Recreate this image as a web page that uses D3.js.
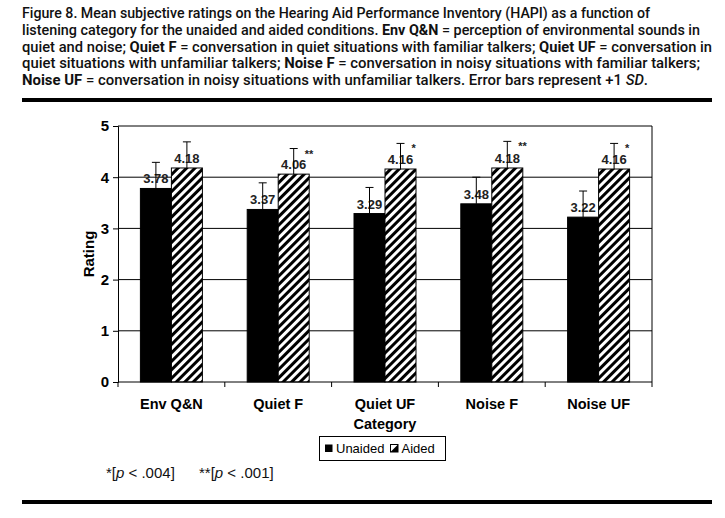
<!DOCTYPE html>
<html>
<head>
<meta charset="utf-8">
<script src="https://cdn.jsdelivr.net/npm/d3@7"></script>
<style>
  body { margin: 0; background: #fff; }
  svg { display: block; font-family: "Liberation Sans", Arial, sans-serif; }
</style>
</head>
<body>
<div id="chart"></div>
<script>
// Chart data
const categories = ["Env Q&N", "Quiet F", "Quiet UF", "Noise F", "Noise UF"];
const series = ["Unaided", "Aided"];
const unaided = [3.78, 3.37, 3.29, 3.48, 3.22];
const aided = [4.18, 4.06, 4.16, 4.18, 4.16];
const unaidedSD = [0.51, 0.52, 0.51, 0.52, 0.51];
const aidedSD = [0.51, 0.50, 0.50, 0.52, 0.50];
const significance = ["", "**", "*", "**", "*"];
const yTicks = [0, 1, 2, 3, 4, 5];

// Caption lines: [text, style] pieces per line
const captionLines = [
  [["Figure 8. Mean subjective ratings on the Hearing Aid Performance Inventory (HAPI) as a function of", false]],
  [["listening category for the unaided and aided conditions. ", false], ["Env Q&N", true], [" = perception of environmental sounds in", false]],
  [["quiet and noise; ", false], ["Quiet F", true], [" = conversation in quiet situations with familiar talkers; ", false], ["Quiet UF", true], [" = conversation in", false]],
  [["quiet situations with unfamiliar talkers; ", false], ["Noise F", true], [" = conversation in noisy situations with familiar talkers;", false]],
  [["Noise UF", true], [" = conversation in noisy situations with unfamiliar talkers. Error bars represent +1 ", false], ["SD", "italic"], [".", false]]
];
const captionWidths = [628, 678, 690, 678, 626];

const width = 725;
const height = 518;
const plot = { left: 118, right: 652, top: 126, bottom: 382 };

const svg = d3.select("#chart")
  .append("svg")
  .attr("width", width)
  .attr("height", height);

// Hatch pattern for aided bars
const defs = svg.append("defs");
const hatch = defs.append("pattern")
  .attr("id", "hatch")
  .attr("patternUnits", "userSpaceOnUse")
  .attr("width", 6)
  .attr("height", 6)
  .attr("patternTransform", "rotate(45)");
hatch.append("rect").attr("width", 6).attr("height", 6).attr("fill", "#fff");
hatch.append("line")
  .attr("x1", 1.5).attr("y1", 0).attr("x2", 1.5).attr("y2", 6)
  .attr("stroke", "#000").attr("stroke-width", 3);

// Caption
const cap = svg.append("g")
  .attr("font-family", "Roboto, 'Liberation Sans', sans-serif")
  .attr("font-size", 14)
  .attr("fill", "#111");
captionLines.forEach((pieces, i) => {
  const t = cap.append("text")
    .attr("x", 22)
    .attr("y", 18 + i * 16.8)
    .attr("textLength", captionWidths[i])
    .attr("lengthAdjust", "spacingAndGlyphs");
  pieces.forEach(([s, style]) => {
    t.append("tspan")
      .attr("font-weight", style === true ? 700 : 500)
      .attr("font-style", style === "italic" ? "italic" : "normal")
      .text(s);
  });
});

// Rules
svg.append("rect").attr("x", 22).attr("y", 98).attr("width", 690).attr("height", 4).attr("fill", "#000");
svg.append("rect").attr("x", 22).attr("y", 500).attr("width", 690).attr("height", 4).attr("fill", "#000");

// Scales
const x0 = d3.scaleBand()
  .domain(categories)
  .range([plot.left, plot.right]);

const x1 = d3.scaleBand()
  .domain(series)
  .range([0, 62]);

const y = d3.scaleLinear()
  .domain([0, 5])
  .range([plot.bottom, plot.top]);

// Gridlines
svg.append("g")
  .selectAll("line")
  .data(yTicks.slice(1))
  .join("line")
  .attr("x1", plot.left)
  .attr("x2", plot.right)
  .attr("y1", d => y(d))
  .attr("y2", d => y(d))
  .attr("stroke", "#000")
  .attr("stroke-width", 1);

// right border
svg.append("line")
  .attr("x1", plot.right).attr("x2", plot.right)
  .attr("y1", plot.top).attr("y2", plot.bottom)
  .attr("stroke", "#000");

// Bars
const rows = categories.map((c, i) => ({
  cat: c,
  vals: [
    { s: "Unaided", v: unaided[i], sd: unaidedSD[i], sig: "" },
    { s: "Aided", v: aided[i], sd: aidedSD[i], sig: significance[i] }
  ]
}));

const groups = svg.append("g")
  .selectAll("g")
  .data(rows)
  .join("g")
  .attr("transform", d => `translate(${x0(d.cat) + x0.bandwidth() / 2 - 31},0)`);

groups.selectAll("rect")
  .data(d => d.vals)
  .join("rect")
  .attr("x", d => x1(d.s))
  .attr("y", d => y(d.v))
  .attr("width", x1.bandwidth())
  .attr("height", d => y(0) - y(d.v))
  .attr("fill", d => d.s === "Unaided" ? "#000" : "url(#hatch)")
  .attr("stroke", "#000")
  .attr("stroke-width", 1);

// Value labels
groups.selectAll("text.val")
  .data(d => d.vals)
  .join("text")
  .attr("class", "val")
  .attr("x", d => x1(d.s) + x1.bandwidth() / 2)
  .attr("y", d => y(d.v) - 5)
  .attr("text-anchor", "middle")
  .attr("font-size", 13)
  .attr("font-weight", "bold")
  .attr("fill", "#222")
  .text(d => d.v.toFixed(2));

// Error bars
const eb = groups.selectAll("g.err")
  .data(d => d.vals)
  .join("g")
  .attr("class", "err")
  .attr("stroke", "#000")
  .attr("stroke-width", 1);
eb.append("line")
  .attr("x1", d => x1(d.s) + x1.bandwidth() / 2)
  .attr("x2", d => x1(d.s) + x1.bandwidth() / 2)
  .attr("y1", d => y(d.v))
  .attr("y2", d => y(d.v + d.sd));
eb.append("line")
  .attr("x1", d => x1(d.s) + x1.bandwidth() / 2 - 4)
  .attr("x2", d => x1(d.s) + x1.bandwidth() / 2 + 4)
  .attr("y1", d => y(d.v + d.sd))
  .attr("y2", d => y(d.v + d.sd));

// Significance markers
groups.selectAll("text.sig")
  .data(d => d.vals.filter(v => v.sig))
  .join("text")
  .attr("class", "sig")
  .attr("x", d => x1(d.s) + x1.bandwidth() / 2 + 11)
  .attr("y", d => y(d.v + d.sd) + 9)
  .attr("font-size", 11)
  .attr("font-weight", "bold")
  .attr("fill", "#222")
  .text(d => d.sig);

// Axes
const yAxis = d3.axisLeft(y).tickValues(yTicks).tickSize(5).tickPadding(4).tickFormat(d3.format("d"));
svg.append("g")
  .attr("transform", `translate(${plot.left},0)`)
  .call(yAxis)
  .call(g => g.selectAll("text").attr("font-size", 15).attr("font-weight", "bold").attr("fill", "#000"))
  .call(g => g.select(".domain").attr("stroke", "#000"));

const xAxis = d3.axisBottom(x0).tickSize(0).tickPadding(17);
svg.append("g")
  .attr("transform", `translate(0,${plot.bottom})`)
  .call(xAxis)
  .call(g => g.selectAll("text").attr("font-size", 14.5).attr("font-weight", "bold").attr("fill", "#000"))
  .call(g => g.select(".domain").attr("d", `M${plot.left},0H${plot.right}`).attr("stroke", "#000"));

// category boundary ticks
svg.append("g")
  .selectAll("line")
  .data(categories.concat(["end"]))
  .join("line")
  .attr("x1", (d, i) => plot.left + i * x0.step())
  .attr("x2", (d, i) => plot.left + i * x0.step())
  .attr("y1", plot.bottom)
  .attr("y2", plot.bottom + 5)
  .attr("stroke", "#000");

// Axis titles
svg.append("text")
  .attr("transform", `translate(94,${(plot.top + plot.bottom) / 2}) rotate(-90)`)
  .attr("text-anchor", "middle")
  .attr("font-size", 15)
  .attr("font-weight", "bold")
  .text("Rating");

svg.append("text")
  .attr("x", (plot.left + plot.right) / 2)
  .attr("y", 429)
  .attr("text-anchor", "middle")
  .attr("font-size", 14.5)
  .attr("font-weight", "bold")
  .text("Category");

// Legend
const legend = svg.append("g");
legend.append("rect")
  .attr("x", 319.5).attr("y", 436.5).attr("width", 126).attr("height", 24)
  .attr("fill", "#fff").attr("stroke", "#000");
legend.append("rect")
  .attr("x", 325).attr("y", 444.5).attr("width", 7.5).attr("height", 7.5)
  .attr("fill", "#000");
legend.append("text")
  .attr("x", 336).attr("y", 453).attr("font-size", 13).text(series[0]);
legend.append("rect")
  .attr("x", 390.5).attr("y", 444.5).attr("width", 7.5).attr("height", 7.5)
  .attr("fill", "#fff").attr("stroke", "#000");
legend.append("path")
  .attr("d", "M390.5,452 L398,444.5 L398,452 Z")
  .attr("fill", "#000");
legend.append("text")
  .attr("x", 401.5).attr("y", 453).attr("font-size", 13).text(series[1]);

// Footnote
const foot = svg.append("g").attr("font-size", 15).attr("fill", "#111");
const f1 = foot.append("text").attr("x", 106).attr("y", 478);
f1.append("tspan").text("*[");
f1.append("tspan").attr("font-style", "italic").text("p");
f1.append("tspan").text(" < .004]");
const f2 = foot.append("text").attr("x", 199).attr("y", 478);
f2.append("tspan").text("**[");
f2.append("tspan").attr("font-style", "italic").text("p");
f2.append("tspan").text(" < .001]");
</script>
</body>
</html>
